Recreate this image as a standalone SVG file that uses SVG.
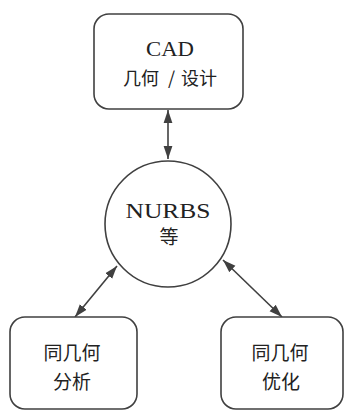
<svg xmlns="http://www.w3.org/2000/svg" width="345" height="411" viewBox="0 0 345 411">
<defs>
<marker id="ah" viewBox="0 0 13 10" refX="13" refY="5" markerWidth="13" markerHeight="10" markerUnits="userSpaceOnUse" orient="auto-start-reverse">
<path d="M0,0.6 L13,5 L0,9.4 z" fill="#404040"/>
</marker>
</defs>
<style>
.box{fill:#fff;stroke:#404040;stroke-width:1.6}
.lat{font-family:"Liberation Serif","DejaVu Serif",serif;font-size:21px;fill:#222;text-anchor:middle}
.cjk{font-family:"Noto Sans CJK SC","Noto Sans",sans-serif;font-size:18px;fill:#222;text-anchor:middle}
.con{stroke:#404040;stroke-width:1.6;fill:none;marker-start:url(#ah);marker-end:url(#ah)}
</style>
<rect width="345" height="411" fill="#fff"/>
<g id="connectors">
<line class="con" x1="168" y1="110" x2="168" y2="159"/>
<line class="con" x1="117" y1="266" x2="75" y2="317"/>
<line class="con" x1="223" y1="260" x2="282" y2="317"/>
</g>
<g id="cad">
<rect class="box" x="94" y="14" width="149" height="95" rx="15"/>
<text class="lat" x="170" y="56" textLength="48" lengthAdjust="spacingAndGlyphs">CAD</text>
<text class="cjk" y="85"><tspan x="141">几何</tspan><tspan x="171.5">/</tspan><tspan x="199">设计</tspan></text>
</g>
<g id="nurbs">
<circle class="box" cx="168" cy="224" r="63"/>
<text class="lat" x="168" y="218" textLength="85" lengthAdjust="spacingAndGlyphs">NURBS</text>
<text class="cjk" x="169" y="244" style="font-size:19px">等</text>
</g>
<g id="analysis">
<rect class="box" x="10" y="317" width="127" height="92" rx="15"/>
<text class="cjk" x="72" y="360" style="font-size:19px">同几何</text>
<text class="cjk" x="72" y="389" style="font-size:19px">分析</text>
</g>
<g id="optimization">
<rect class="box" x="221" y="317" width="122" height="92" rx="15"/>
<text class="cjk" x="280" y="360" style="font-size:19px">同几何</text>
<text class="cjk" x="281" y="389" style="font-size:19px">优化</text>
</g>
</svg>
